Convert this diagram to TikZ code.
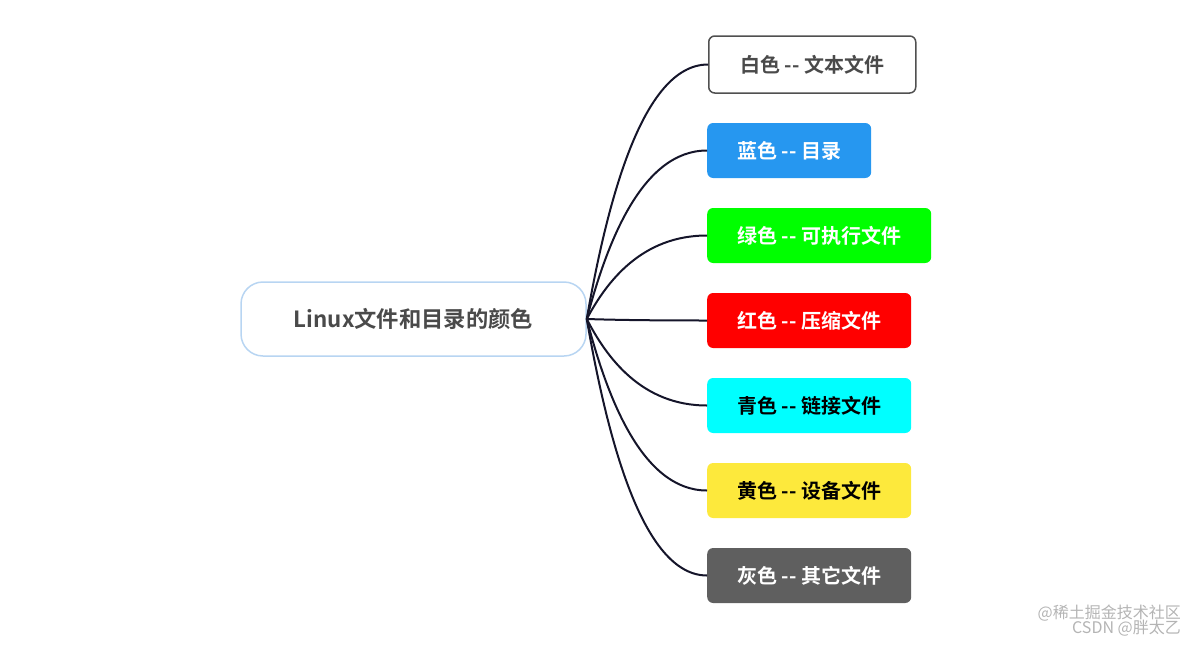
\documentclass[tikz,border=0pt]{standalone}
\usepackage{fontspec}
\setmainfont{Noto Sans CJK SC}[BoldFont={Noto Sans CJK SC Bold}]
\usetikzlibrary{calc}
\definecolor{rootborder}{HTML}{B8D5F2}
\definecolor{roottext}{HTML}{4A4A4A}
\definecolor{linkcol}{HTML}{15152A}
\definecolor{cblue}{HTML}{2697F0}
\definecolor{cgreen}{HTML}{00FF00}
\definecolor{cred}{HTML}{FF0000}
\definecolor{ccyan}{HTML}{00FFFF}
\definecolor{cyellow}{HTML}{FDE93C}
\definecolor{cgray}{HTML}{5F5F5F}
\definecolor{wborder}{HTML}{505050}
\definecolor{wmark}{HTML}{B4B4B4}
\tikzset{
  rootbox/.style={draw=rootborder, line width=1.5pt, fill=white, rounded corners=22pt,
    minimum width=345pt, minimum height=74pt, inner sep=0pt,
    font=\fontsize{22.3}{25}\selectfont\bfseries, text=roottext},
  leaf/.style={rounded corners=6pt, anchor=west, minimum height=55pt, inner sep=0pt,
    font=\fontsize{20}{23}\selectfont\bfseries},
  link/.style={draw=linkcol, line width=2pt},
  wm/.style={font=\fontsize{16}{18}\selectfont, text=wmark, anchor=east, inner sep=0pt}
}
\begin{document}
\begin{tikzpicture}[x=1pt,y=-1pt]
\useasboundingbox (0,0) rectangle (1196,645);
\node[rootbox] (root) at (413.5,319) {Linux文件和目录的颜色};
\node[leaf, draw=wborder, line width=1.5pt, fill=white, text=roottext, minimum width=207pt, minimum height=57pt] (n1) at (708,64.5) {白色 -{}- 文本文件};
\node[leaf, fill=cblue, text=white, minimum width=164pt] (n2) at (707,150.5) {蓝色 -{}- 目录};
\node[leaf, fill=cgreen, text=white, minimum width=224pt] (n3) at (707,235.5) {绿色 -{}- 可执行文件};
\node[leaf, fill=cred, text=white, minimum width=204pt] (n4) at (707,320.5) {红色 -{}- 压缩文件};
\node[leaf, fill=ccyan, text=black, minimum width=204pt] (n5) at (707,405.5) {青色 -{}- 链接文件};
\node[leaf, fill=cyellow, text=black, minimum width=204pt] (n6) at (707,490.5) {黄色 -{}- 设备文件};
\node[leaf, fill=cgray, text=white, minimum width=204pt] (n7) at (707,575.5) {灰色 -{}- 其它文件};
\foreach \nd in {n1,n2,n3,n4,n5,n6,n7}{
  \draw[link] let \p1=(root.east), \p2=(\nd.west) in
    (\p1) .. controls ({\x1+20pt},{\y1+0.45*(\y2-\y1)}) and ({\x1+55pt},\y2) .. (\p2);
}
\node[wm] (wm1) at (1181,613) {@稀土掘金技术社区};
\node[wm] (wm2) at (1181,628) {CSDN @胖太乙};
\end{tikzpicture}
\end{document}
